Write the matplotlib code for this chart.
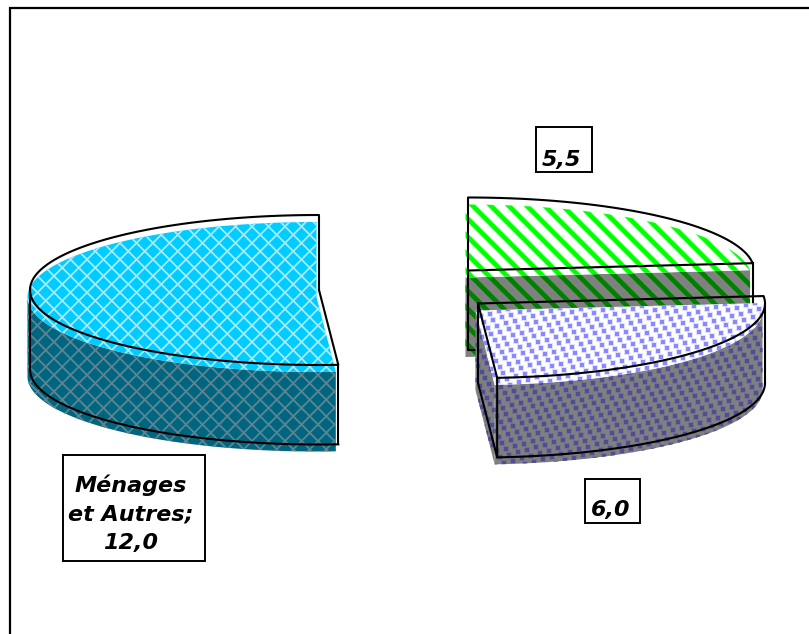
import numpy as np
import matplotlib
matplotlib.use('Agg')
import matplotlib.pyplot as plt
from matplotlib.patches import Polygon, Rectangle

W, H = 809, 634

# chart data, clockwise from twelve o'clock
names = ['', '', 'Ménages\net Autres;']
values = [5.5, 6.0, 12.0]
value_labels = ['5,5', '6,0', '12,0']

total = sum(values)
edges = np.cumsum([0] + values) / total * 360.

# layout, in picture pixels
centers = [(468, 270.5), (478, 303.5), (319, 290)]
radii = [(286, 73), (287, 74.5), (289, 75)]
depth = 79.5
shift = (-2.5, 7)
boxes = [(536, 127, 592, 172), (585, 479, 640, 523), (63, 455, 205, 561)]
text_xy = [(561, 160), (611, 510), (131, 514)]


def rim(c, r, a0, a1):
    t = np.radians(np.linspace(a0, a1, 120))
    return np.column_stack([c[0] + r[0] * np.sin(t), c[1] - r[1] * np.cos(t)])


def clip_poly(ax, pts, color):
    p = Polygon(pts, closed=True, fc=color, ec='none', zorder=ax.z)
    ax.add_patch(p)
    ax.z += 0.01
    return p


def diagonal_lines(ax, clip, period, slope, color, lw):
    # slope +1 / -1 in pixel space, period measured along x
    for k in np.arange(-H - W, W + H, period):
        if slope > 0:
            xs, ys = [k, k + H + W], [0, H + W]
        else:
            xs, ys = [k, k + H + W], [H + W, 0]
        l, = ax.plot(xs, ys, color=color, lw=lw, zorder=ax.z, solid_capstyle='butt')
        l.set_clip_path(clip)
    ax.z += 0.01


def dots(ax, clip, color):
    i, j = np.meshgrid(np.arange(-60, 60), np.arange(-60, 60))
    xs = 620 + 9 * i + 3.5 * j
    ys = 375 - 2.5 * i + 6 * j
    for size, alpha in [(13, 0.25), (6.5, 1.0)]:
        s = ax.scatter(xs.ravel(), ys.ravel(), marker='s', s=size, color=color,
                       alpha=alpha, lw=0, zorder=ax.z)
        s.set_clip_path(clip)
        ax.z += 0.01


def texture(ax, clip, kind, side):
    if kind == 'cross':
        c = '#5f8494' if side else '#a6ebff'
        diagonal_lines(ax, clip, 16.5, 1, c, 1.3)
        diagonal_lines(ax, clip, 16.5, -1, c, 1.3)
    elif kind == 'stripes':
        diagonal_lines(ax, clip, 18, 1, '#008000' if side else '#00ff00', 3.4)
    else:
        dots(ax, clip, '#4d4d99' if side else '#8888ff')


def draw_slice(ax, i, kind, top_color, side_color):
    c, r = centers[i], radii[i]
    a0, a1 = edges[i], edges[i + 1]
    c2 = (c[0] + shift[0], c[1] + shift[1])

    # side walls, fill layer first
    walls = []
    if kind == 'stripes':
        front = rim(c2, r, a1, a1)
        walls.append(np.vstack([[c2], front[-1:], front[-1:] + [0, depth], [c2[0], c2[1] + depth]]))
    elif kind == 'dots':
        front = rim(c2, r, max(a0, 90), a1)
        walls.append(np.vstack([[c2], front[-1:], front[-1:] + [0, depth], [c2[0], c2[1] + depth]]))
        walls.append(np.vstack([front, (front + [0, depth])[::-1]]))
    else:
        front = rim(c2, r, a0, 270)
        walls.append(np.vstack([front, (front + [0, depth])[::-1]]))
    for w in walls:
        p = clip_poly(ax, w, side_color)
        texture(ax, p, kind, True)

    # top face
    top = np.vstack([[c2], rim(c2, r, a0, a1)])
    p = clip_poly(ax, top, top_color)
    texture(ax, p, kind, False)

    # black outline, offset from the fill as in the original
    ol = dict(color='black', lw=1.5, zorder=ax.z, solid_joinstyle='round')
    outline = np.vstack([[c], rim(c, r, a0, a1), [c]])
    ax.plot(outline[:, 0], outline[:, 1], **ol)
    if kind == 'stripes':
        end = rim(c, r, a1, a1)[0]
        ax.plot([c[0], c[0], c[0] + 9], [c[1], c[1] + depth, c[1] + depth], **ol)
        ax.plot([end[0], end[0]], [end[1], end[1] + depth], **ol)
    elif kind == 'dots':
        end = rim(c, r, a1, a1)[0]
        b = rim(c, r, max(a0, 90), a1)
        ax.plot(b[:, 0], b[:, 1] + depth, **ol)
        ax.plot([b[0, 0]] * 2, [b[0, 1], b[0, 1] + depth], **ol)
        ax.plot([c[0], c[0], end[0], end[0]], [c[1], c[1] + depth, end[1] + depth, end[1]], **ol)
    else:
        start = rim(c, r, a0, a0)[0]
        b = rim(c, r, a0, 270)
        ax.plot(b[:, 0], b[:, 1] + depth, **ol)
        ax.plot([b[-1, 0]] * 2, [b[-1, 1], b[-1, 1] + depth], **ol)
        ax.plot([start[0]] * 2, [start[1], start[1] + depth], **ol)
    ax.z += 0.01


fig = plt.figure(figsize=(W / 100., H / 100.), dpi=100)
ax = fig.add_axes([0, 0, 1, 1])
ax.set_xlim(0, W)
ax.set_ylim(H, 0)
ax.axis('off')
ax.z = 2

# frame, cut off by the picture on the right and bottom
ax.plot([10, 10, W + 5], [H + 5, 8, 8], color='black', lw=1.6, zorder=1, solid_joinstyle='miter')

draw_slice(ax, 0, 'stripes', 'white', '#808080')
draw_slice(ax, 1, 'dots', 'white', '#808080')
draw_slice(ax, 2, 'cross', '#00ccff', '#006680')

for i, (x0, y0, x1, y1) in enumerate(boxes):
    ax.add_patch(Rectangle((x0, y0), x1 - x0, y1 - y0, fc='white', ec='black', lw=1.4, zorder=20))
    label = names[i] + '\n' + value_labels[i] if names[i] else value_labels[i]
    ax.text(text_xy[i][0], text_xy[i][1], label, ha='center', va='center', zorder=21,
            family='DejaVu Sans', style='oblique', weight='bold', fontsize=16, linespacing=1.52)

fig.savefig('out.png', dpi=100)
